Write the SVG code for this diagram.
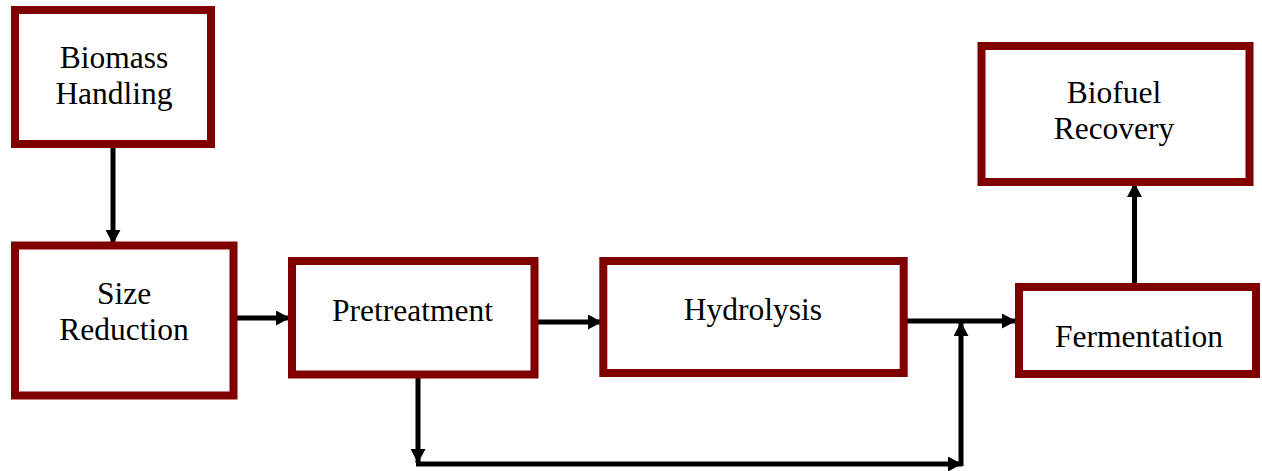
<svg xmlns="http://www.w3.org/2000/svg" width="1262" height="471" viewBox="0 0 1262 471">
<style>
.box{fill:#fff;stroke:#800000;stroke-width:8}
.lbl{font-family:"Liberation Serif","Times New Roman",serif;font-size:31.5px;fill:#000;text-anchor:middle}
.con{stroke:#000;stroke-width:5;fill:none}
</style>
<defs>
<marker id="ah" viewBox="0 0 14 15" refX="14" refY="7.5" markerWidth="14" markerHeight="15" markerUnits="userSpaceOnUse" orient="auto">
<path d="M0,0 L14,7.5 L0,15 z" fill="#000"/>
</marker>
</defs>
<rect width="1262" height="471" fill="#fff"/>
<g id="connectors">
<path class="con" d="M113,148 V244" marker-end="url(#ah)"/>
<path class="con" d="M235,318 H290" marker-end="url(#ah)"/>
<path class="con" d="M536,322 H602" marker-end="url(#ah)"/>
<path class="con" d="M905,321 H1016" marker-end="url(#ah)"/>
<path class="con" d="M418,376 V463" marker-end="url(#ah)"/>
<path class="con" d="M416,464 H962" marker-end="url(#ah)"/>
<path class="con" d="M961,466 V322" marker-end="url(#ah)"/>
<path class="con" d="M1134.5,285 V183" marker-end="url(#ah)"/>
</g>
<g id="biomass-handling">
<rect class="box" x="15" y="10" width="196" height="134"/>
<text class="lbl" x="114" y="68">Biomass</text>
<text class="lbl" x="114" y="104">Handling</text>
</g>
<g id="size-reduction">
<rect class="box" x="15" y="245.5" width="218.5" height="150"/>
<text class="lbl" x="124" y="304">Size</text>
<text class="lbl" x="124" y="340">Reduction</text>
</g>
<g id="pretreatment">
<rect class="box" x="292" y="261" width="242.5" height="113.5"/>
<text class="lbl" x="412.5" y="321">Pretreatment</text>
</g>
<g id="hydrolysis">
<rect class="box" x="603.3" y="261" width="300.4" height="112"/>
<text class="lbl" x="753" y="320">Hydrolysis</text>
</g>
<g id="fermentation">
<rect class="box" x="1019" y="287" width="237" height="87"/>
<text class="lbl" x="1139" y="347">Fermentation</text>
</g>
<g id="biofuel-recovery">
<rect class="box" x="981.5" y="46" width="268" height="136"/>
<text class="lbl" x="1114" y="103">Biofuel</text>
<text class="lbl" x="1114" y="138.5">Recovery</text>
</g>
</svg>
